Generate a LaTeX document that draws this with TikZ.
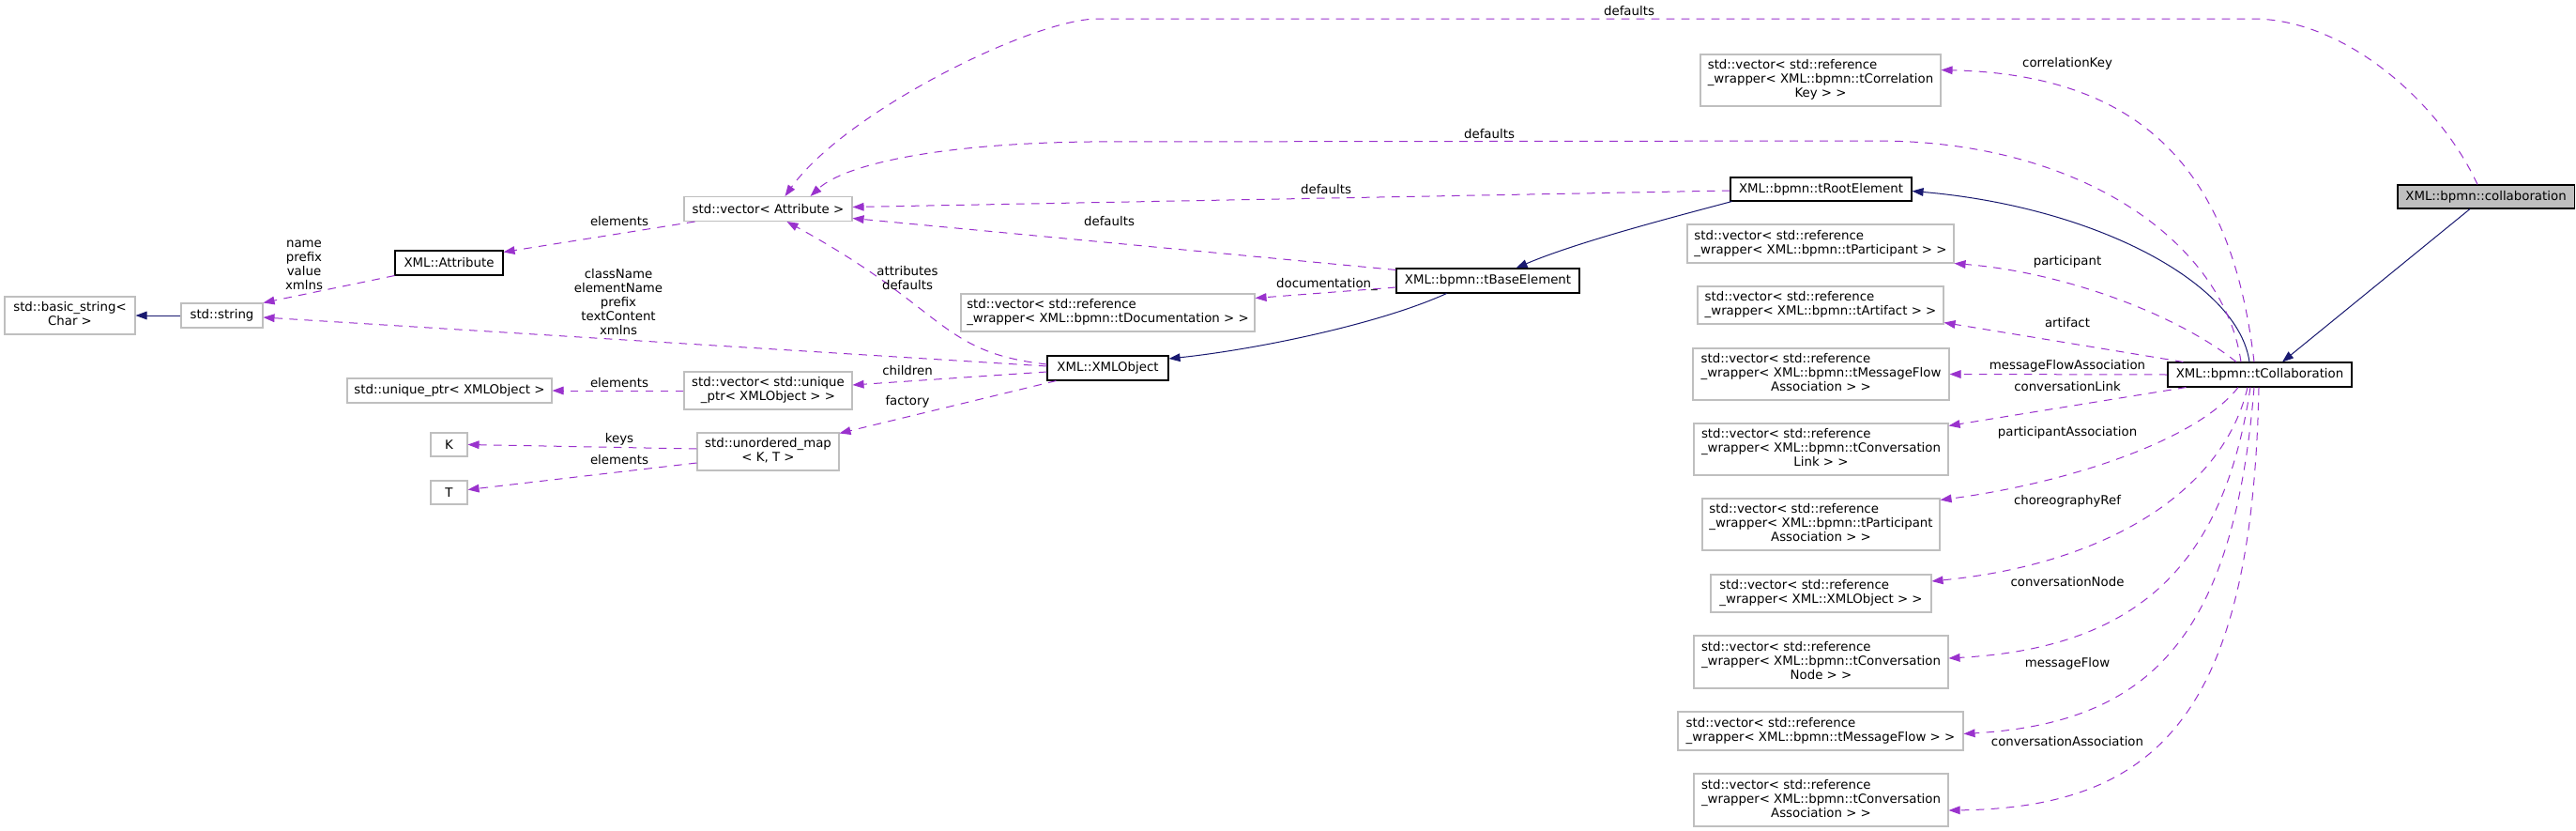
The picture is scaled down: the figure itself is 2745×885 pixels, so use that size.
\documentclass[tikz,border=0pt]{standalone}
\usepackage{fontspec}
\setmainfont{DejaVu Sans}
\usetikzlibrary{arrows.meta,calc}
\definecolor{edgepurple}{HTML}{9A32CD}
\definecolor{edgenavy}{HTML}{191970}
\definecolor{boxgray}{HTML}{BFBFBF}
\newcommand\twol[2]{\begin{tabular}{@{}l@{}}#1\\\multicolumn{1}{@{}c@{}}{#2}\end{tabular}}
\newcommand\threel[3]{\begin{tabular}{@{}l@{}}#1\\#2\\\multicolumn{1}{@{}c@{}}{#3}\end{tabular}}
\tikzset{
  gbox/.style={draw=boxgray, line width=0.8pt, fill=white, inner sep=1pt},
  dbox/.style={draw=black, line width=0.8pt, fill=white, inner sep=1pt},
  sz/.style 2 args={minimum width=#1*0.75pt, minimum height=#2*0.75pt},
  inh/.style={draw=edgenavy, line width=0.75pt, -{Triangle[length=9pt,width=6.5pt]}},
  usage/.style={draw=edgepurple, line width=0.75pt, dash pattern=on 6.5pt off 5.5pt, -{Triangle[length=9pt,width=6.5pt]}},
  lbl/.style={inner sep=0pt, align=center},
}
\begin{document}
\begin{tikzpicture}[x=0.75pt,y=-0.75pt,font=\fontsize{10}{11.25}\selectfont]
\fill[white] (0,0) rectangle (2745,885);
\useasboundingbox (0,0) rectangle (2745,885);

% nodes
\node[gbox,sz={139}{40}] (bstr) at (74.5,336) {\twol{std::basic\_string<}{Char >}};
\node[gbox,sz={87}{26}] (str) at (236.5,336) {std::string};
\node[dbox,sz={115}{26}] (attr) at (478.5,280) {XML::Attribute};
\node[gbox,sz={179}{26}] (vattr) at (818.5,222.5) {std::vector< Attribute >};
\node[gbox,sz={218}{26}] (uptr) at (479,416) {std::unique\_ptr< XMLObject >};
\node[gbox,sz={179}{40}] (vuptr) at (818.5,416) {\twol{std::vector< std::unique}{\_ptr< XMLObject > >}};
\node[gbox,sz={39}{25}] (K) at (478.5,473.5) {K};
\node[gbox,sz={39}{25}] (T) at (478.5,524.5) {T};
\node[gbox,sz={151}{40}] (umap) at (818.5,481) {\twol{std::unordered\_map}{< K, T >}};
\node[dbox,sz={129}{26}] (xmlobj) at (1180.5,392) {XML::XMLObject};
\node[gbox,sz={313}{40}] (tdoc) at (1180.5,333) {\twol{std::vector< std::reference}{\_wrapper< XML::bpmn::tDocumentation > >}};
\node[dbox,sz={195}{26}] (tbase) at (1585.5,299) {XML::bpmn::tBaseElement};
\node[dbox,sz={193}{25}] (troot) at (1940.5,201.5) {XML::bpmn::tRootElement};
\node[gbox,sz={256}{55}] (corr) at (1940,85.5) {\threel{std::vector< std::reference}{\_wrapper< XML::bpmn::tCorrelation}{Key > >}};
\node[gbox,sz={284}{41}] (tpart) at (1940,259.5) {\twol{std::vector< std::reference}{\_wrapper< XML::bpmn::tParticipant > >}};
\node[gbox,sz={262}{40}] (tart) at (1940,325) {\twol{std::vector< std::reference}{\_wrapper< XML::bpmn::tArtifact > >}};
\node[gbox,sz={273}{55}] (tmfa) at (1940.5,398.5) {\threel{std::vector< std::reference}{\_wrapper< XML::bpmn::tMessageFlow}{Association > >}};
\node[dbox,sz={196}{26}] (tcoll) at (2408,399) {XML::bpmn::tCollaboration};
\node[dbox,fill=boxgray,sz={188}{25}] (coll) at (2649,209.5) {XML::bpmn::collaboration};
\node[gbox,sz={271}{55}] (tcl) at (1940.5,478.5) {\threel{std::vector< std::reference}{\_wrapper< XML::bpmn::tConversation}{Link > >}};
\node[gbox,sz={253}{55}] (tpa) at (1940.5,558.5) {\threel{std::vector< std::reference}{\_wrapper< XML::bpmn::tParticipant}{Association > >}};
\node[gbox,sz={235}{40}] (xref) at (1940.5,632) {\twol{std::vector< std::reference}{\_wrapper< XML::XMLObject > >}};
\node[gbox,sz={271}{56}] (tcn) at (1940.5,705) {\threel{std::vector< std::reference}{\_wrapper< XML::bpmn::tConversation}{Node > >}};
\node[gbox,sz={304}{41}] (tmf) at (1940,778.5) {\twol{std::vector< std::reference}{\_wrapper< XML::bpmn::tMessageFlow > >}};
\node[gbox,sz={271}{56}] (tca) at (1940.5,852) {\threel{std::vector< std::reference}{\_wrapper< XML::bpmn::tConversation}{Association > >}};

% inheritance edges
\draw[inh] (str.west) -- (bstr.east);
\draw[inh] ($(tbase.south)+(-44,0)$) .. controls (1470,345) and (1340,372) .. ($(xmlobj.east)+(0,-10)$);
\draw[inh] ($(troot.south west)+(2,0)$) .. controls (1780,232) and (1680,258) .. ($(tbase.north)+(30,0)$);
\draw[inh] ($(tcoll.north)+(-11,0)$) .. controls (2385,300) and (2230,220) .. ($(troot.east)+(0,2)$);
\draw[inh] ($(coll.south)+(-17,0)$) -- ($(tcoll.north)+(24,0)$);

% usage edges
\draw[usage] ($(vattr.south west)+(12,0)$) -- ($(attr.north east)+(0,2)$);
\draw[usage] (attr.south west) -- (str.north east);
\draw[usage] ($(xmlobj.west)+(0,-2)$) -- ($(str.east)+(0,2)$);
\draw[usage] ($(xmlobj.west)+(0,-4)$) .. controls (1000,375) and (1010,330) .. ($(vattr.south)+(20,0)$);
\draw[usage] ($(xmlobj.west)+(0,4)$) -- ($(vuptr.east)+(0,-6)$);
\draw[usage] ($(xmlobj.south west)+(10,0)$) -- ($(umap.north east)+(0,1)$);
\draw[usage] (vuptr.west) -- (uptr.east);
\draw[usage] ($(umap.west)+(0,-3)$) -- (K.east);
\draw[usage] ($(umap.west)+(0,12)$) -- ($(T.east)+(0,-3)$);
\draw[usage] ($(tbase.north west)+(0,2)$) -- ($(vattr.east)+(0,10)$);
\draw[usage] ($(tbase.west)+(0,7)$) -- ($(tdoc.north east)+(0,5)$);
\draw[usage] ($(troot.west)+(0,1.5)$) -- ($(vattr.east)+(0,-2)$);
\draw[usage] ($(tcoll.north)+(-20,0)$) .. controls (2370,260) and (2220,150) .. (2000,150) -- (1160,151) .. controls (1000,153) and (900,175) .. ($(vattr.north)+(45,0)$);
\draw[usage] ($(coll.north)+(-9,0)$) .. controls (2600,110) and (2500,20) .. (2400,20) -- (1170,20) .. controls (1100,20) and (900,120) .. ($(vattr.north)+(18,0)$);
\draw[usage] ($(tcoll.north)+(-6,0)$) .. controls (2380,200) and (2300,80) .. ($(corr.east)+(0,-11)$);
\draw[usage] ($(tcoll.north)+(-25,0)$) .. controls (2320,335) and (2200,290) .. (tpart.south east);
\draw[usage] ($(tcoll.north west)+(17,0)$) -- ($(tart.south east)+(0,-2)$);
\draw[usage] (tcoll.west) -- (tmfa.east);
\draw[usage] ($(tcoll.south west)+(20,0)$) -- ($(tcl.north east)+(0,3)$);
\draw[usage] ($(tcoll.south)+(-23,0)$) .. controls (2340,470) and (2200,515) .. ($(tpa.north east)+(0,2)$);
\draw[usage] ($(tcoll.south)+(-13,0)$) .. controls (2370,520) and (2250,600) .. ($(xref.east)+(0,-13)$);
\draw[usage] ($(tcoll.south)+(-10,0)$) .. controls (2370,600) and (2280,690) .. ($(tcn.east)+(0,-4)$);
\draw[usage] ($(tcoll.south)+(-6,0)$) .. controls (2380,680) and (2290,770) .. ($(tmf.east)+(0,3)$);
\draw[usage] ($(tcoll.south)+(-1,0)$) .. controls (2400,760) and (2300,860) .. ($(tca.east)+(0,11)$);

% edge labels
\node[lbl] (l1) at (660,236) {elements};
\node[lbl] (l2) at (324,282) {name\\prefix\\value\\xmlns};
\node[lbl] (l3) at (659,322) {className\\elementName\\prefix\\textContent\\xmlns};
\node[lbl] (l4) at (660,408) {elements};
\node[lbl] (l5) at (660,468) {keys};
\node[lbl] (l6) at (660,490) {elements};
\node[lbl] (l7) at (967,296) {attributes\\defaults};
\node[lbl] (l8) at (967,395) {children};
\node[lbl] (l9) at (967,428) {factory};
\node[lbl] (l10) at (1182,236) {defaults};
\node[lbl] (l11) at (1414,303) {documentation\_};
\node[lbl] (l12) at (1413,202) {defaults};
\node[lbl] (l13) at (1587,143) {defaults};
\node[lbl] (l14) at (1736,12) {defaults};
\node[lbl] (l15) at (2203,68) {correlationKey};
\node[lbl] (l16) at (2203,279) {participant};
\node[lbl] (l17) at (2203,344) {artifact};
\node[lbl] (l18) at (2203,390) {messageFlowAssociation};
\node[lbl] (l19) at (2203,412) {conversationLink};
\node[lbl] (l20) at (2203,461) {participantAssociation};
\node[lbl] (l21) at (2203,534) {choreographyRef};
\node[lbl] (l22) at (2203,620) {conversationNode};
\node[lbl] (l23) at (2203,707) {messageFlow};
\node[lbl] (l24) at (2203,790) {conversationAssociation};
\end{tikzpicture}
\end{document}
